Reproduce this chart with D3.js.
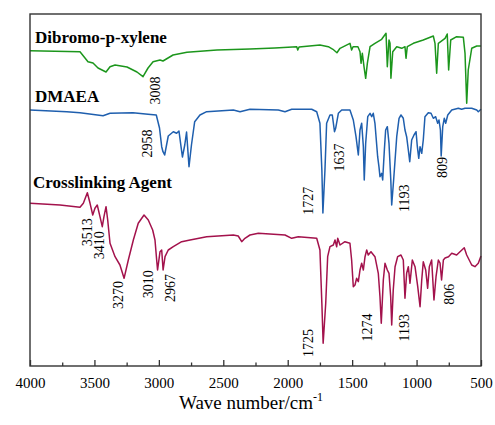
<!DOCTYPE html>
<html>
<head>
<meta charset="utf-8">
<script src="https://cdn.jsdelivr.net/npm/d3@7"></script>
<style>
  html, body { margin: 0; padding: 0; background: #fff; }
  svg { display: block; }
  text { font-family: "Liberation Serif", "Times New Roman", serif; fill: #000; }
</style>
</head>
<body>
<svg id="chart" width="495" height="425"></svg>
<script>
// ---------- DATA (wavenumber in cm^-1, signal in stacked arbitrary units) ----------
const xylWn = [4000,3612,3550,3511,3472,3410,3379,3340,3247,3170,3123,3084,3045,2991,2968,2890,2782,2549,2293,2100,1930,1922,1912,1750,1685,1649,1618,1594,1517,1504,1493,1455,1439,1431,1421,1408,1395,1382,1361,1323,1271,1237,1227,1214,1206,1199,1185,1154,1115,1090,1082,1072,1025,948,870,857,844,831,779,762,751,735,689,637,624,611,599,572,533,500];
const xylVal = [31.53,31.43,30.43,30.30,29.80,29.40,29.93,30.10,29.90,29.40,28.93,29.80,30.43,30.60,30.50,31.10,31.37,31.60,31.70,31.80,31.93,31.60,31.90,32.10,31.93,31.67,31.33,31.77,32.27,31.60,31.93,31.93,31.43,30.27,31.27,29.93,28.77,30.27,31.93,32.27,32.67,33.27,29.93,32.60,32.27,28.77,31.43,31.93,31.77,31.93,30.77,31.93,32.27,32.60,33.00,32.27,29.27,32.27,32.77,33.20,29.60,32.60,32.93,32.87,31.27,26.27,29.60,31.77,32.00,32.00];

const dmaeaWn = [4000,3715,3612,3433,3379,3201,3084,3020,2995,2978,2968,2955,2927,2888,2862,2844,2828,2817,2799,2785,2766,2747,2722,2681,2629,2422,2370,2293,2073,2021,1969,1814,1775,1750,1735,1727,1711,1698,1672,1654,1637,1628,1607,1581,1517,1491,1470,1452,1439,1426,1413,1406,1395,1379,1361,1348,1336,1323,1302,1292,1284,1271,1263,1250,1240,1227,1214,1200,1193,1178,1154,1136,1121,1103,1090,1077,1064,1053,1038,1020,1004,994,983,973,960,948,935,909,888,870,852,836,826,815,809,797,785,774,758,727,676,650,624,572,533,521,500];
const dmaeaVal = [25.60,25.43,25.33,25.03,25.27,25.33,25.17,25.10,23.80,21.93,21.43,21.10,23.00,23.43,23.27,23.50,21.93,20.90,22.10,23.40,19.93,22.10,24.43,25.10,25.43,25.60,25.43,25.67,25.60,25.43,25.67,25.67,25.43,24.27,19.60,15.30,19.60,24.27,25.10,25.10,23.43,23.77,25.27,25.60,25.60,24.60,22.93,21.10,23.60,24.27,21.93,18.60,22.27,24.93,25.27,24.93,25.27,24.27,20.93,19.93,18.93,19.27,18.60,21.60,23.60,23.93,22.27,18.60,16.10,18.60,22.93,24.77,25.10,24.77,23.60,22.93,21.60,20.43,22.60,23.10,23.43,21.93,20.77,21.93,21.27,22.60,24.93,25.33,25.27,24.77,24.93,24.27,24.60,23.60,21.00,23.93,24.77,24.27,25.10,25.60,25.77,25.67,25.77,25.77,25.60,25.43,25.67];

const crossWn = [4000,3767,3612,3586,3555,3534,3513,3496,3478,3457,3439,3426,3410,3397,3379,3340,3302,3270,3237,3198,3160,3115,3082,3048,3030,3017,3010,2991,2978,2967,2952,2927,2888,2823,2758,2629,2422,2384,2357,2332,2293,2228,2021,1969,1918,1775,1750,1735,1725,1705,1690,1672,1646,1633,1620,1612,1594,1556,1517,1504,1491,1478,1465,1452,1439,1426,1413,1400,1387,1375,1354,1323,1297,1284,1274,1258,1245,1227,1214,1201,1193,1181,1167,1147,1121,1103,1090,1077,1064,1051,1033,1012,991,973,960,948,929,914,901,883,865,849,831,818,806,792,779,752,727,689,663,630,611,572,547,521,500];
const crossVal = [16.27,16.10,15.87,16.27,17.33,16.27,15.10,15.77,16.10,14.93,13.93,14.93,15.93,14.60,12.27,10.93,10.10,8.77,10.60,12.60,14.27,15.10,14.60,13.60,12.60,10.60,9.60,11.43,11.60,9.60,10.93,11.60,11.93,12.43,12.60,12.93,13.10,13.00,12.43,12.77,13.10,13.27,13.10,12.77,12.93,12.77,11.60,6.27,2.27,6.27,10.93,11.93,12.10,12.60,11.93,12.77,12.10,12.43,12.27,10.60,7.93,8.10,8.77,8.43,9.60,10.27,9.60,10.93,11.60,11.10,11.43,10.93,9.27,6.93,4.27,8.60,10.27,9.60,9.27,6.93,4.10,7.60,9.93,10.93,11.10,10.60,6.77,9.27,9.93,8.27,10.60,9.93,7.93,5.93,8.60,10.43,9.60,7.77,9.93,10.60,6.60,8.93,10.60,10.30,8.60,10.60,10.80,10.93,11.27,11.10,11.43,11.83,11.10,10.10,9.93,10.27,11.00];

const seriesNames = ["Dibromo-p-xylene", "DMAEA", "Crosslinking Agent"];
const xTicks = [4000, 3500, 3000, 2500, 2000, 1500, 1000, 500];
const xMinorTicks = [3750, 3250, 2750, 2250, 1750, 1250, 750];

// peak annotations: text, wavenumber, signal level of the label centre
const peakText = ["3008","2958","1727","1637","1193","809","3513","3410","3270","3010","2967","1725","1274","1193","806"];
const peakWn   = [3030, 3092, 1843, 1600, 1095, 800, 3555, 3462, 3315, 3082, 2914, 1840, 1382, 1095, 748];
const peakVal  = [27.55, 22.25, 16.52, 20.86, 16.78, 19.85, 13.37, 12.07, 7.10, 8.18, 7.80, 2.30, 3.85, 3.82, 7.18];

// ---------- LAYOUT ----------
const W = 495, H = 425;
const margin = { left: 30, top: 14, right: 14, bottom: 59 };
const colors = ["#1c961c", "#1f5fae", "#a3124c"];
const labelPos = [[35, 43], [35, 102], [33, 187.5]];

const svg = d3.select("#chart");
const x = d3.scaleLinear().domain([4000, 500]).range([margin.left, W - margin.right]);
const y = d3.scaleLinear().domain([0, 35.2]).range([H - margin.bottom, margin.top]);

const series = [
  { wn: xylWn, val: xylVal },
  { wn: dmaeaWn, val: dmaeaVal },
  { wn: crossWn, val: crossVal }
];

const line = d3.line().x(d => x(d[0])).y(d => y(d[1]));

series.forEach((s, i) => {
  const pts = s.wn.map((w, k) => [w, s.val[k]]);
  svg.append("path")
    .attr("d", line(pts))
    .attr("fill", "none")
    .attr("stroke", colors[i])
    .attr("stroke-width", 1.5)
    .attr("stroke-linejoin", "round");
  svg.append("text")
    .attr("x", labelPos[i][0]).attr("y", labelPos[i][1])
    .attr("font-size", 17).attr("font-weight", "bold")
    .text(seriesNames[i]);
});

// peak labels
peakText.forEach((t, i) => {
  svg.append("text")
    .attr("transform", `translate(${x(peakWn[i])},${y(peakVal[i])}) rotate(-90)`)
    .attr("text-anchor", "middle")
    .attr("dy", "0.35em")
    .attr("font-size", 14)
    .text(t);
});

// frame
const plotW = W - margin.left - margin.right;
const plotH = H - margin.top - margin.bottom;
svg.append("rect")
  .attr("x", margin.left).attr("y", margin.top)
  .attr("width", plotW).attr("height", plotH)
  .attr("fill", "none").attr("stroke", "#333").attr("stroke-width", 1.4);

// x axis
const axisG = svg.append("g").attr("transform", `translate(0,${H - margin.bottom})`);
axisG.call(d3.axisBottom(x).tickValues(xTicks).tickSize(-6).tickFormat(d3.format("d")).tickPadding(11))
  .call(g => g.select(".domain").remove())
  .call(g => g.selectAll(".tick line").attr("stroke", "#333").attr("stroke-width", 1.3))
  .call(g => g.selectAll(".tick text").attr("font-size", 15)
    .attr("font-family", "Liberation Serif, Times New Roman, serif").attr("fill", "#000"));
const minorG = svg.append("g").attr("transform", `translate(0,${H - margin.bottom})`);
minorG.call(d3.axisBottom(x).tickValues(xMinorTicks).tickSize(-3.5).tickFormat(""))
  .call(g => g.select(".domain").remove())
  .call(g => g.selectAll(".tick line").attr("stroke", "#333").attr("stroke-width", 1.3));

// axis title
const title = svg.append("text")
  .attr("x", 251).attr("y", 409)
  .attr("text-anchor", "middle")
  .attr("font-size", 19);
title.append("tspan").text("Wave number/cm");
title.append("tspan").attr("font-size", 12).attr("dy", -8).text("-1");
</script>
</body>
</html>
